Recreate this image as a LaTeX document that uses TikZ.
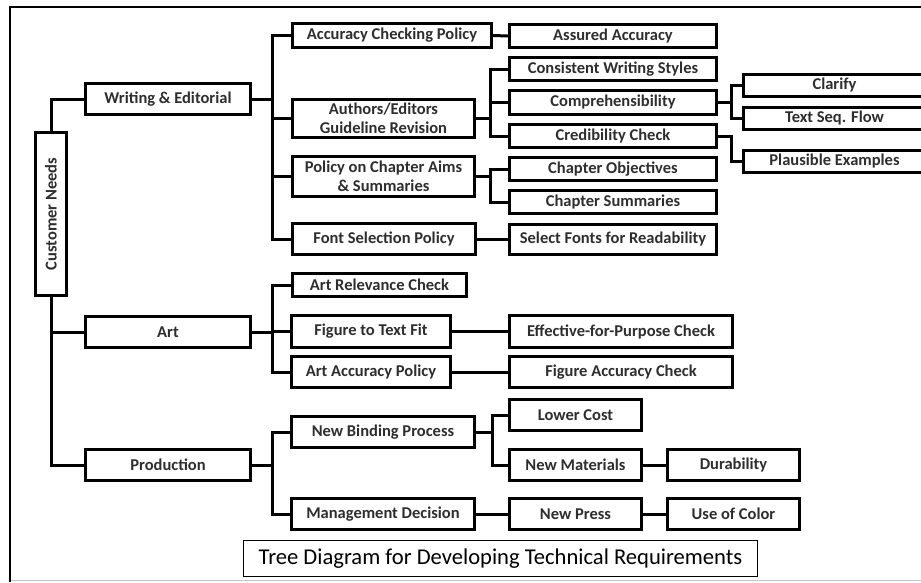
\documentclass[tikz,border=0pt]{standalone}
\usepackage{fontspec}
\usepackage{graphicx}
\setmainfont{Carlito}
\begin{document}
\begin{tikzpicture}[x=1pt,y=-1pt,
  box/.style={draw=black, line width=3pt, fill=white, inner sep=0pt,
    align=center, font=\bfseries\fontsize{16.5}{19.5}\selectfont, text=black!82},
  link/.style={line width=3pt, line cap=rect},
  frameline/.style={line width=2.6pt},
  titlebox/.style={draw=black, line width=1.2pt, inner sep=0pt,
    font=\fontsize{22.6}{26}\selectfont}]
\fill[white] (0,0) rectangle (921,582);
\useasboundingbox (0,0) rectangle (921,582);

% open frame: top and left edges, faint base line
\draw[frameline] (10,582) -- (10,7) -- (930,7);
\draw[black!22, line width=1pt] (11,580.5) -- (930,580.5);

% root
\node[box, minimum width=31pt, minimum height=163pt] (cn) at (51,214)
  {\rotatebox{90}{Customer Needs}};

% first level
\node[box, minimum width=165pt, minimum height=31pt] (we) at (168,99) {Writing \& Editorial};
\node[box, minimum width=165pt, minimum height=31pt] (art) at (168,332) {Art};
\node[box, minimum width=165pt, minimum height=31pt] (prod) at (168,465) {Production};

% second level: writing
\node[box, minimum width=199pt, minimum height=24pt] (acp) at (392,35.5) {Accuracy Checking Policy};
\node[box, minimum width=182pt, minimum height=38pt] (aeg) at (383.5,118.5) {Authors/Editors\\Guideline Revision};
\node[box, minimum width=182pt, minimum height=40pt] (pca) at (383.5,176.5) {Policy on Chapter Aims\\\& Summaries};
\node[box, minimum width=183pt, minimum height=31pt] (fsp) at (384,239) {Font Selection Policy};
% second level: art
\node[box, minimum width=174pt, minimum height=23pt] (arc) at (379.5,285) {Art Relevance Check};
\node[box, minimum width=159pt, minimum height=32pt] (ftf) at (371,331.5) {Figure to Text Fit};
\node[box, minimum width=159pt, minimum height=31pt] (aap) at (371,372) {Art Accuracy Policy};
% second level: production
\node[box, minimum width=183pt, minimum height=31pt] (nbp) at (383,432) {New Binding Process};
\node[box, minimum width=183pt, minimum height=31pt] (md) at (383,514) {Management Decision};

% third level
\node[box, minimum width=207pt, minimum height=23pt] (aa) at (613,36) {Assured Accuracy};
\node[box, minimum width=207pt, minimum height=23pt] (cws) at (613,69) {Consistent Writing Styles};
\node[box, minimum width=207pt, minimum height=24pt] (comp) at (613,102.5) {Comprehensibility};
\node[box, minimum width=207pt, minimum height=23pt] (cred) at (613,136) {Credibility Check};
\node[box, minimum width=207pt, minimum height=23pt] (cobj) at (613,169) {Chapter Objectives};
\node[box, minimum width=207pt, minimum height=23pt] (csum) at (613,202) {Chapter Summaries};
\node[box, minimum width=207pt, minimum height=30pt] (sfr) at (613,239) {Select Fonts for Readability};
\node[box, minimum width=223pt, minimum height=32pt] (efp) at (621,331.5) {Effective-for-Purpose Check};
\node[box, minimum width=223pt, minimum height=31pt] (fac) at (621,372) {Figure Accuracy Check};
\node[box, minimum width=132pt, minimum height=31pt] (lc) at (575.5,415) {Lower Cost};
\node[box, minimum width=132pt, minimum height=31pt] (nm) at (575.5,465) {New Materials};
\node[box, minimum width=132pt, minimum height=31pt] (np) at (575.5,514) {New Press};

% fourth level
\node[box, minimum width=182pt, minimum height=22pt] (cla) at (834.5,85.5) {Clarify};
\node[box, minimum width=182pt, minimum height=22pt] (tsf) at (834.5,118.5) {Text Seq. Flow};
\node[box, minimum width=182pt, minimum height=22pt] (pe) at (834.5,161.5) {Plausible Examples};
\node[box, minimum width=132pt, minimum height=31pt] (dur) at (733.5,465) {Durability};
\node[box, minimum width=132pt, minimum height=31pt] (uoc) at (733.5,514) {Use of Color};

% title
\node[titlebox, minimum width=514pt, minimum height=36pt] (title) at (500.5,558.5)
  {Tree Diagram for Developing Technical Requirements};

% bus positions
\coordinate (b1) at (272,0);
\coordinate (b2) at (490,0);
\coordinate (b3) at (492,0);
\coordinate (b4) at (731,0);

% root to first level
\draw[link] (cn.north) |- (we.west);
\draw[link] (cn.south) |- (art.west);
\draw[link] (cn.south) |- (prod.west);

% writing branch
\draw[link] (we.east) -- (we.east -| b1);
\draw[link] (acp.west -| b1) -- (fsp.west -| b1);
\foreach \n in {acp,aeg,pca,fsp} \draw[link] (\n.west) -- (\n.west -| b1);
% art branch
\draw[link] (art.east) -- (art.east -| b1);
\draw[link] (arc.west -| b1) -- (aap.west -| b1);
\foreach \n in {arc,ftf,aap} \draw[link] (\n.west) -- (\n.west -| b1);
% production branch
\draw[link] (prod.east) -- (prod.east -| b1);
\draw[link] (nbp.west -| b1) -- (md.west -| b1);
\foreach \n in {nbp,md} \draw[link] (\n.west) -- (\n.west -| b1);

% guideline revision
\draw[link] (aeg.east) -- (aeg.east -| b2);
\draw[link] (cws.west -| b2) -- (cred.west -| b2);
\foreach \n in {cws,comp,cred} \draw[link] (\n.west) -- (\n.west -| b2);
% chapter aims
\draw[link] (pca.east) -- (pca.east -| b2);
\draw[link] (cobj.west -| b2) -- (csum.west -| b2);
\foreach \n in {cobj,csum} \draw[link] (\n.west) -- (\n.west -| b2);
% binding process
\draw[link] (nbp.east) -- (nbp.east -| b3);
\draw[link] (lc.west -| b3) -- (nm.west -| b3);
\foreach \n in {lc,nm} \draw[link] (\n.west) -- (\n.west -| b3);
% comprehensibility
\draw[link] (comp.east) -- (comp.east -| b4);
\draw[link] (cla.west -| b4) -- (tsf.west -| b4);
\foreach \n in {cla,tsf} \draw[link] (\n.west) -- (\n.west -| b4);
% credibility
\draw[link] (cred.east) -| (cred.east -| b4) |- (pe.west);

% single links
\draw[link] (acp.east) -- (aa.west);
\draw[link] (fsp.east) -- (sfr.west);
\draw[link] (ftf.east) -- (efp.west);
\draw[link] (aap.east) -- (fac.west);
\draw[link] (md.east) -- (np.west);
\draw[link] (nm.east) -- (dur.west);
\draw[link] (np.east) -- (uoc.west);
\end{tikzpicture}
\end{document}
